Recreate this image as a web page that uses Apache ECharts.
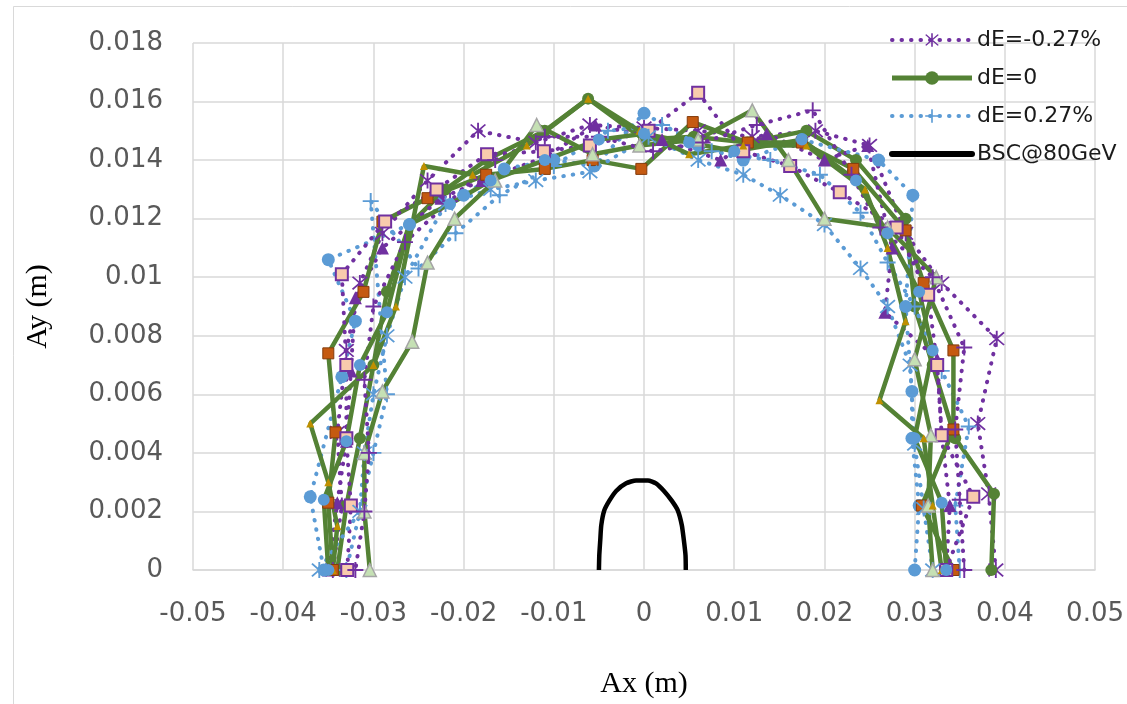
<!DOCTYPE html>
<html><head><meta charset="utf-8">
<script src="https://cdn.jsdelivr.net/npm/echarts@6/dist/echarts.min.js"></script>
<style>html,body{margin:0;padding:0;background:#fff}#c{width:1127px;height:704px}</style>
</head><body><div id="c"></div>
<script>
const legendNames = ['dE=-0.27%', 'dE=0', 'dE=0.27%', 'BSC@80GeV'];
const xMin = -0.05, xMax = 0.05, xStep = 0.01;
const yMin = 0, yMax = 0.018, yStep = 0.002;

// dE = -0.27 %
const pAst = [[0.0390,0],[0.0382,0.0026],[0.0370,0.0050],[0.0391,0.0079],[0.0330,0.0098],[0.0290,0.0115],[0.0250,0.0145],[0.0190,0.0150],[0.0120,0.0148],[0.0060,0.0150],[0.0000,0.0151],[-0.0060,0.0152],[-0.0120,0.0146],[-0.0184,0.0150],[-0.0240,0.0133],[-0.0290,0.0115],[-0.0315,0.0098],[-0.0330,0.0075],[-0.0340,0.0047],[-0.0335,0.0022],[-0.0345,0]];
const pTri = [[0.0335,0],[0.0339,0.0022],[0.0330,0.0046],[0.0325,0.0072],[0.0267,0.0088],[0.0275,0.0110],[0.0248,0.0145],[0.0200,0.0140],[0.0136,0.0149],[0.0085,0.0140],[0.0020,0.0147],[-0.0054,0.0152],[-0.0110,0.0141],[-0.0180,0.0133],[-0.0225,0.0127],[-0.0290,0.0110],[-0.0320,0.0093],[-0.0325,0.0068],[-0.0330,0.0044],[-0.0340,0.0023],[-0.0350,0]];
const pSq = [[0.0335,0],[0.0365,0.0025],[0.0330,0.0046],[0.0325,0.0070],[0.0315,0.0094],[0.0280,0.0117],[0.0217,0.0129],[0.0162,0.0138],[0.0110,0.0143],[0.0060,0.0163],[0.0005,0.0150],[-0.0060,0.0145],[-0.0111,0.0143],[-0.0174,0.0142],[-0.0230,0.0130],[-0.0287,0.0119],[-0.0335,0.0101],[-0.0330,0.0070],[-0.0330,0.0045],[-0.0325,0.0022],[-0.0329,0]];
const pPlus = [[0.0355,0],[0.0350,0.0024],[0.0345,0.0048],[0.0355,0.0076],[0.0320,0.0100],[0.0262,0.0117],[0.0230,0.0135],[0.0187,0.0157],[0.0125,0.0152],[0.0065,0.0146],[0.0010,0.0143],[-0.0050,0.0148],[-0.0110,0.0148],[-0.0165,0.0140],[-0.0215,0.0126],[-0.0265,0.0112],[-0.0300,0.0090],[-0.0310,0.0065],[-0.0305,0.0040],[-0.0310,0.0020],[-0.0320,0]];
// dE = +0.27 %
const bPlus = [[0.0350,0],[0.0345,0.0022],[0.0360,0.0049],[0.0330,0.0068],[0.0300,0.0090],[0.0270,0.0105],[0.0240,0.0122],[0.0195,0.0135],[0.0140,0.0140],[0.0075,0.0143],[0.0020,0.0152],[-0.0040,0.0150],[-0.0100,0.0138],[-0.0160,0.0128],[-0.0209,0.0115],[-0.0250,0.0103],[-0.0303,0.0126],[-0.0285,0.0060],[-0.0300,0.0040],[-0.0315,0.0020],[-0.0330,0]];
const bCirc = [[0.0300,0],[0.0305,0.0022],[0.0297,0.0045],[0.0297,0.0061],[0.0290,0.0090],[0.0298,0.0128],[0.0260,0.0140],[0.0175,0.0147],[0.0110,0.0140],[0.0060,0.0145],[0.0000,0.0156],[-0.0055,0.0138],[-0.0100,0.0140],[-0.0155,0.0137],[-0.0200,0.0128],[-0.0260,0.0118],[-0.0350,0.0106],[-0.0320,0.0085],[-0.0335,0.0066],[-0.0370,0.0025],[-0.0355,0]];
const bAst = [[0.0320,0],[0.0310,0.0021],[0.0300,0.0043],[0.0295,0.0070],[0.0270,0.0090],[0.0240,0.0103],[0.0200,0.0118],[0.0151,0.0128],[0.0110,0.0135],[0.0060,0.0140],[0.0005,0.0148],[-0.0060,0.0136],[-0.0120,0.0133],[-0.0170,0.0130],[-0.0220,0.0125],[-0.0265,0.0100],[-0.0285,0.0080],[-0.0300,0.0060],[-0.0310,0.0040],[-0.0315,0.0020],[-0.0360,0]];
// dE = 0
const gCirc = [[0.0385,0],[0.0388,0.0026],[0.0345,0.0045],[0.0320,0.0070],[0.0300,0.0090],[0.0290,0.0120],[0.0235,0.0140],[0.0180,0.0150],[0.0115,0.0146],[0.0055,0.0148],[0.0000,0.0147],[-0.0062,0.0161],[-0.0110,0.0150],[-0.0175,0.0140],[-0.0220,0.0130],[-0.0260,0.0118],[-0.0285,0.0095],[-0.0300,0.0070],[-0.0315,0.0045],[-0.0330,0.0022],[-0.0340,0]];
const gSq = [[0.0343,0],[0.0308,0.0022],[0.0343,0.0048],[0.0343,0.0075],[0.0310,0.0098],[0.0290,0.0116],[0.0232,0.0137],[0.0175,0.0146],[0.0115,0.0146],[0.0054,0.0153],[-0.0003,0.0137],[-0.0057,0.0140],[-0.0110,0.0137],[-0.0175,0.0135],[-0.0240,0.0127],[-0.0290,0.0119],[-0.0311,0.0095],[-0.0350,0.0074],[-0.0342,0.0047],[-0.0350,0.0023],[-0.0345,0]];
const gTri = [[0.0320,0],[0.0315,0.0022],[0.0318,0.0046],[0.0300,0.0072],[0.0324,0.0100],[0.0270,0.0117],[0.0200,0.0120],[0.0160,0.0140],[0.0120,0.0157],[0.0060,0.0147],[-0.0005,0.0145],[-0.0057,0.0142],[-0.0119,0.0152],[-0.0165,0.0133],[-0.0210,0.0120],[-0.0240,0.0105],[-0.0257,0.0078],[-0.0290,0.0061],[-0.0310,0.0040],[-0.0310,0.0020],[-0.0304,0]];
const gOlive = [[0.0330,0],[0.0320,0.0022],[0.0310,0.0045],[0.0261,0.0058],[0.0290,0.0085],[0.0270,0.0110],[0.0245,0.0130],[0.0180,0.0145],[0.0110,0.0145],[0.0050,0.0142],[-0.0005,0.0150],[-0.0062,0.0161],[-0.0130,0.0145],[-0.0190,0.0135],[-0.0244,0.0138],[-0.0275,0.0090],[-0.0300,0.0070],[-0.0370,0.0050],[-0.0350,0.0030],[-0.0340,0.0015],[-0.0345,0]];
const gBlue = [[0.0335,0],[0.0330,0.0023],[0.0300,0.0045],[0.0320,0.0075],[0.0305,0.0095],[0.0270,0.0115],[0.0235,0.0133],[0.0175,0.0147],[0.0100,0.0143],[0.0050,0.0146],[0.0000,0.0149],[-0.0050,0.0147],[-0.0110,0.0140],[-0.0170,0.0133],[-0.0215,0.0125],[-0.0260,0.0118],[-0.0285,0.0088],[-0.0315,0.0070],[-0.0330,0.0044],[-0.0355,0.0024],[-0.0350,0]];
// BSC @ 80 GeV
const bsc = [[-0.0050,0],[-0.00496,0.0005],[-0.00485,0.00103],[-0.00474,0.00153],[-0.00441,0.00203],[-0.00386,0.00236],[-0.00309,0.0027],[-0.00198,0.00296],[-0.00088,0.00306],[0.00044,0.00306],[0.00132,0.00296],[0.00221,0.0027],[0.00309,0.00236],[0.00375,0.00203],[0.00419,0.00153],[0.00441,0.00103],[0.0046,0.0005],[0.00463,0]];

const AST = 'path://M4.5,0h1v10h-1z M0.7,1.4L1.4,0.7L9.3,8.6L8.6,9.3z M8.6,0.7L9.3,1.4L1.4,9.3L0.7,8.6z';
const PLUS = 'path://M4.4,0h1.2v4.4h4.4v1.2h-4.4v4.4h-1.2v-4.4h-4.4v-1.2h4.4z';
const purpleLine = {color:'#7030a0', width:4, type:[0.5,9], cap:'round'};
const blueLine = {color:'#5b9bd5', width:4, type:[0.5,9], cap:'round'};
const greenLine = {color:'#548235', width:4.5, type:'solid'};

function mk(name, data, line, symbol, size, item) {
  return {type:'line', name, data, lineStyle: line, symbol, symbolSize: size, itemStyle: item,
          showSymbol: true, showAllSymbol: true, animation: false, emphasis:{disabled:true}};
}
const series = [
  mk(legendNames[0], pAst, purpleLine, AST, 16, {color:'#7030a0'}),
  mk(legendNames[1], gCirc, greenLine, 'circle', 12, {color:'#548235'}),
  mk(legendNames[2], bPlus, blueLine, PLUS, 16, {color:'#5b9bd5'}),
  mk(legendNames[0], pTri, purpleLine, 'triangle', 13, {color:'#7030a0'}),
  mk(legendNames[2], bCirc, blueLine, 'circle', 13, {color:'#5b9bd5'}),
  mk(legendNames[1], gSq, greenLine, 'rect', 11, {color:'#c55a11', borderColor:'#843c0c', borderWidth:1}),
  mk(legendNames[0], pSq, purpleLine, 'rect', 12, {color:'#f8cbad', borderColor:'#7030a0', borderWidth:2}),
  mk(legendNames[2], bAst, blueLine, AST, 16, {color:'#5b9bd5'}),
  mk(legendNames[1], gTri, greenLine, 'triangle', 13, {color:'#c5e0b4', borderColor:'#a5a5a5', borderWidth:1.5}),
  mk(legendNames[0], pPlus, purpleLine, PLUS, 16, {color:'#7030a0'}),
  mk(legendNames[1], gOlive, greenLine, 'triangle', 8, {color:'#bf9000'}),
  mk(legendNames[1], gBlue, greenLine, 'circle', 12, {color:'#5b9bd5'}),
  {type:'line', name: legendNames[3], data: bsc, smooth: 0.2, symbol:'none', showSymbol:false,
   lineStyle:{color:'#000', width:4.5}, itemStyle:{color:'#000'}, animation:false}
];

const tickFmt = d => v => String(parseFloat(v.toFixed(d)));
const chart = echarts.init(document.getElementById('c'), null, {renderer:'canvas'});
chart.setOption({
  backgroundColor:'#fff',
  animation:false,
  graphic:[{type:'rect', shape:{x:13.5,y:6.5,width:1140,height:720}, style:{fill:'none', stroke:'#d9d9d9', lineWidth:1}, silent:true, z:-10}],
  grid:{left:193, right:24, top:43, bottom:120, containLabel:false},
  legend:{data: [
      {name: legendNames[0], lineStyle:{width:4}},
      {name: legendNames[1], lineStyle:{width:5}},
      {name: legendNames[2], lineStyle:{width:4}},
      {name: legendNames[3], itemStyle:{opacity:0}, lineStyle:{width:6, cap:'round'}}],
    orient:'vertical', left:884, top:23, itemWidth:80, itemHeight:17, itemGap:14,
    selectedMode:false, textStyle:{fontFamily:'DejaVu Sans', fontSize:22, color:'#1a1a1a', lineHeight:24}},
  xAxis:{type:'value', min:xMin, max:xMax, interval:xStep,
    name:'Ax (m)', nameLocation:'middle', nameGap:99,
    nameTextStyle:{fontFamily:'Liberation Serif', fontSize:30, color:'#000'},
    axisLine:{show:true, lineStyle:{color:'#d9d9d9', width:1.5}}, axisTick:{show:false},
    splitLine:{show:true, lineStyle:{color:'#d9d9d9', width:1.5}},
    axisLabel:{formatter: tickFmt(3), margin:31, fontFamily:'DejaVu Sans', fontSize:26, color:'#595959'}},
  yAxis:{type:'value', min:yMin, max:yMax, interval:yStep,
    name:'Ay (m)', nameLocation:'middle', nameGap:140, nameRotate:90,
    nameTextStyle:{fontFamily:'Liberation Serif', fontSize:30, color:'#000'},
    axisLine:{show:false}, axisTick:{show:false},
    splitLine:{show:true, lineStyle:{color:'#d9d9d9', width:1.5}},
    axisLabel:{formatter: tickFmt(4), margin:30, fontFamily:'DejaVu Sans', fontSize:26, color:'#595959'}},
  series
});
</script></body></html>
